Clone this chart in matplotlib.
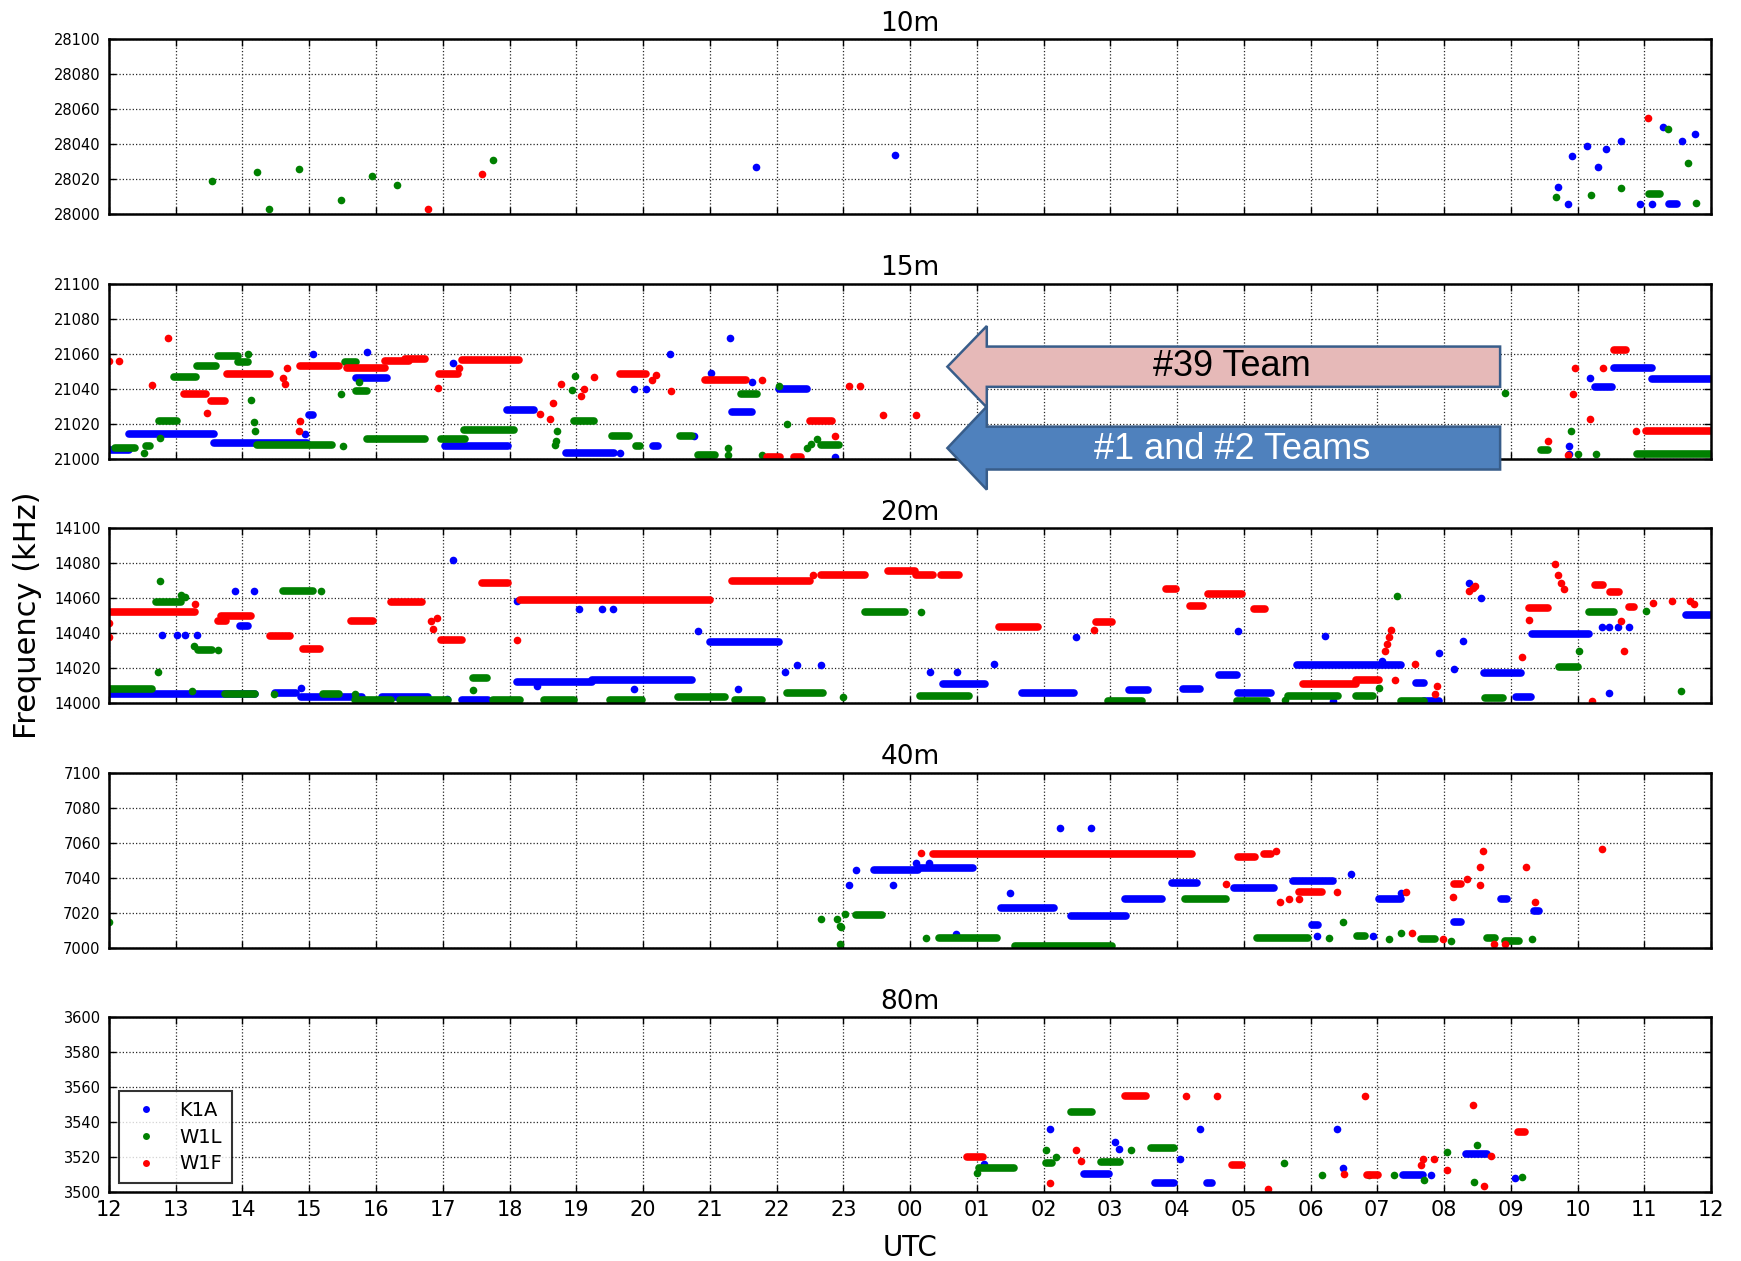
import matplotlib
matplotlib.use('Agg')
import matplotlib.pyplot as plt
from matplotlib.lines import Line2D
from matplotlib.patches import FancyArrow

# x = hours after 12 UTC (0 .. 24)
# (t, f) is one spot, (t0, t1, f) is a run of spots on one frequency
BANDS = ['10m', '15m', '20m', '40m', '80m']
BAND_LOW = [28000, 21000, 14000, 7000, 3500]
STATIONS = ['K1A', 'W1L', 'W1F']
STATION_COLORS = ['b', 'g', 'r']
HOUR_LABELS = ['12', '13', '14', '15', '16', '17', '18', '19', '20', '21', '22', '23',
               '00', '01', '02', '03', '04', '05', '06', '07', '08', '09', '10', '11', '12']

K1A_10 = [(9.70, 28027), (11.78, 28034), (21.70, 28015.5), (21.85, 28006), (21.92, 28033),
          (22.14, 28039), (22.30, 28027), (22.42, 28037), (22.65, 28042), (22.94, 28006),
          (23.11, 28006), (23.28, 28050), (23.37, 23.49, 28006), (23.57, 28042), (23.76, 28046)]
W1L_10 = [(1.55, 28019), (2.21, 28024), (2.40, 28003), (2.84, 28026), (3.48, 28008),
          (3.94, 28022), (4.32, 28016.5), (5.75, 28031), (21.68, 28010), (22.20, 28011),
          (22.65, 28015), (23.07, 23.23, 28011.5), (23.35, 28048.5), (23.65, 28029), (23.77, 28006.5)]
W1F_10 = [(4.78, 28003), (5.59, 28023), (23.06, 28055)]

K1A_15 = [(0.0, 0.30, 21005), (0.30, 1.57, 21014), (1.57, 2.97, 21009), (2.93, 21014),
          (3.00, 3.06, 21025), (3.05, 21059.5), (3.86, 21061), (3.70, 4.17, 21046), (5.16, 21054.5),
          (5.03, 5.98, 21007), (5.96, 6.37, 21028), (6.84, 7.56, 21003), (7.65, 21003),
          (7.86, 21039.5), (8.05, 21039.5), (8.15, 8.22, 21007), (8.41, 21059.5), (8.77, 21013),
          (9.02, 21049), (9.31, 21069), (9.34, 9.64, 21026.5), (9.64, 21044), (10.03, 10.46, 21039.5),
          (10.87, 21001), (21.87, 21007), (21.87, 21002.5), (22.19, 21046), (22.26, 22.51, 21041),
          (22.55, 23.12, 21051.5), (23.12, 24.0, 21045.5)]
W1L_15 = [(0.09, 0.39, 21006), (0.52, 21003), (0.55, 0.62, 21007), (0.76, 21012), (0.75, 1.02, 21021.5),
          (0.97, 1.31, 21046.5), (1.32, 1.61, 21053), (1.64, 1.94, 21058.5), (1.94, 2.08, 21055),
          (2.08, 21059.5), (2.13, 21033.5), (2.17, 21021), (2.19, 21015.5), (2.21, 3.34, 21008),
          (3.48, 21037), (3.50, 21007), (3.53, 3.70, 21055), (3.74, 21044), (3.70, 3.86, 21038.5),
          (3.87, 4.73, 21011), (4.97, 5.34, 21011), (5.32, 6.07, 21016.5), (6.71, 21016), (6.69, 21010),
          (6.68, 21007.5), (6.94, 21039), (6.98, 21047), (6.97, 7.27, 21021.5), (7.53, 7.79, 21013),
          (7.90, 7.96, 21007), (8.56, 8.73, 21013), (8.82, 9.08, 21002), (9.28, 21006), (9.28, 21002),
          (9.47, 9.71, 21037), (9.79, 21002), (10.03, 21041.5), (10.15, 21019.5), (10.46, 21006),
          (10.52, 21008.5), (10.60, 21011), (10.67, 10.93, 21008), (20.92, 21037.5), (21.45, 21.55, 21005),
          (21.90, 21016), (22.00, 21002.5), (22.28, 21002.5), (22.89, 24.0, 21002.5)]
W1F_15 = [(0.0, 21055.5), (0.15, 21055.5), (0.65, 21042), (0.88, 21069), (1.12, 1.46, 21037),
          (1.47, 21026), (1.53, 1.74, 21033), (1.77, 2.41, 21048.5), (2.61, 21046), (2.64, 21042.5),
          (2.67, 21051.5), (2.84, 21016), (2.86, 21021.5), (2.86, 3.44, 21053), (3.57, 4.13, 21051.5),
          (4.13, 4.49, 21055.5), (4.43, 4.73, 21057), (4.93, 21040.5), (4.95, 5.23, 21048.5),
          (5.25, 21052), (5.29, 6.14, 21056.5), (6.45, 21025.5), (6.61, 21022.5), (6.65, 21032),
          (6.77, 21042.5), (7.07, 21036), (7.12, 21040), (7.27, 21046.5), (7.66, 8.05, 21048.5),
          (8.13, 21045), (8.19, 21048), (8.42, 21038.5), (8.93, 9.55, 21045), (9.79, 21045),
          (9.85, 10.05, 21001), (10.26, 10.36, 21001), (10.50, 10.83, 21021.5), (10.87, 21013),
          (11.09, 21041.5), (11.25, 21041.5), (11.59, 21025), (12.09, 21025), (21.56, 21010),
          (21.85, 21002), (21.93, 21037), (21.96, 21052), (22.19, 21022.5), (22.38, 21052),
          (22.55, 22.72, 21062), (22.88, 21016), (23.02, 24.0, 21016)]

K1A_20 = [(0.0, 2.19, 14005), (0.80, 14039), (1.02, 14039), (1.14, 14039), (1.32, 14039),
          (1.89, 14064), (2.17, 14064), (1.96, 2.08, 14044), (2.48, 2.80, 14005.5), (2.88, 14008.5),
          (2.88, 3.79, 14003.5), (4.09, 4.78, 14003.5), (5.06, 14002.5), (5.29, 5.68, 14001.5),
          (5.16, 14082), (6.11, 14058.5), (6.11, 7.23, 14012), (7.23, 8.73, 14013), (6.41, 14009.5),
          (7.04, 14054), (7.38, 14054), (7.55, 14054), (7.86, 14008), (8.83, 14041), (9.01, 10.04, 14035),
          (9.42, 14008), (10.12, 14017.5), (10.31, 14021.5), (10.66, 14021.5), (12.30, 14017.5),
          (12.71, 14018), (12.49, 13.13, 14011), (13.26, 14022.5), (13.68, 14.45, 14005.5),
          (14.48, 14037.5), (15.28, 15.56, 14007.5), (16.09, 16.35, 14008), (16.63, 16.90, 14016),
          (16.92, 14041), (16.92, 17.41, 14005.5), (17.79, 19.36, 14022), (18.33, 14001), (18.22, 14038.5),
          (19.07, 14024), (19.58, 19.70, 14011.5), (19.70, 19.92, 14001), (19.93, 14028.5),
          (20.15, 14019.5), (20.28, 14035.5), (20.37, 14068.5), (20.55, 14060), (20.60, 21.15, 14017),
          (21.08, 21.30, 14003.5), (21.32, 22.17, 14039.5), (22.36, 14043.5), (22.47, 14043.5),
          (22.60, 14043.5), (22.77, 14043.5), (22.47, 14005.5), (23.63, 24.0, 14050.5)]
W1L_20 = [(0.0, 0.65, 14008), (0.73, 14018), (0.76, 14070), (0.71, 1.08, 14058), (1.08, 14061.5),
          (1.14, 14060.5), (1.25, 14007), (1.27, 14032.5), (1.33, 1.55, 14030.5), (1.64, 14030.5),
          (1.74, 2.19, 14005), (2.47, 14005), (2.61, 3.06, 14064), (3.18, 14064), (3.20, 3.44, 14005),
          (3.68, 14005), (3.68, 4.22, 14001.5), (4.36, 5.08, 14001.5), (5.45, 14007.5),
          (5.46, 5.66, 14014.5), (5.75, 6.15, 14001.5), (6.51, 6.97, 14001.5), (7.51, 7.99, 14001.5),
          (8.52, 9.23, 14003.5), (9.38, 9.78, 14001.5), (10.15, 10.69, 14005.5), (10.99, 14003.5),
          (11.33, 11.92, 14052), (12.17, 14052), (12.15, 12.88, 14004), (14.96, 15.48, 14001),
          (16.90, 17.35, 14001), (17.62, 14002), (17.66, 18.41, 14004), (18.68, 18.94, 14004),
          (19.02, 14008.5), (19.30, 14061), (19.36, 19.70, 14001), (20.62, 20.89, 14003),
          (21.72, 22.00, 14020.5), (22.02, 14029.5), (22.17, 22.55, 14052), (23.02, 14052.5), (23.55, 14007)]
W1F_20 = [(0.0, 14046), (0.0, 14037.5), (0.0, 1.29, 14052), (1.29, 14056.5), (1.64, 1.76, 14047),
          (1.68, 2.13, 14049.5), (2.41, 2.71, 14038.5), (2.90, 3.16, 14031), (3.63, 3.96, 14047),
          (4.23, 4.69, 14058), (4.82, 14047), (4.91, 14048.5), (4.85, 14042.5), (4.97, 5.29, 14036),
          (5.59, 5.98, 14068.5), (6.11, 14036), (6.15, 9.01, 14059), (9.34, 10.50, 14070), (10.54, 14073),
          (10.67, 11.32, 14073), (11.67, 12.07, 14075.5), (12.09, 12.35, 14073), (12.46, 12.73, 14073),
          (13.33, 13.92, 14043.5), (14.76, 14041.5), (14.79, 15.03, 14046.5), (15.84, 15.99, 14065),
          (16.20, 16.39, 14055.5), (16.47, 16.97, 14062.5), (17.15, 17.32, 14054), (17.88, 18.68, 14011),
          (18.68, 19.02, 14013), (19.26, 14013), (19.11, 14029.5), (19.14, 14033.5), (19.17, 14037.5),
          (19.21, 14041.5), (19.56, 14022.5), (19.86, 14005), (19.89, 14010), (20.38, 14064),
          (20.44, 14066), (20.47, 14067), (21.17, 14026.5), (21.28, 21.56, 14054.5), (21.28, 14047.5),
          (21.66, 14079.5), (21.70, 14073), (21.75, 14068.5), (21.79, 14065), (22.21, 14001),
          (22.26, 22.38, 14067.5), (22.49, 22.62, 14063.5), (22.65, 14047), (22.70, 14029.5),
          (22.77, 22.85, 14055), (23.13, 14057), (23.42, 14058.5), (23.68, 14058.5), (23.74, 14056.5)]

K1A_40 = [(11.08, 7035.5), (11.19, 7044.5), (11.46, 12.12, 7044.5), (11.75, 7035.5), (12.09, 7048.5),
          (12.29, 7048.5), (12.12, 12.94, 7045.5), (12.69, 7008), (13.50, 7031), (13.37, 14.15, 7022.5),
          (14.25, 7068.5), (14.71, 7068.5), (14.41, 15.24, 7018), (15.22, 15.78, 7028), (15.92, 16.30, 7037),
          (16.86, 17.45, 7034), (17.73, 18.34, 7038), (18.60, 7042), (18.02, 18.11, 7013), (18.09, 7006.5),
          (18.94, 7006.5), (19.02, 19.36, 7028), (19.35, 7031), (20.15, 20.26, 7014.5),
          (20.85, 20.95, 7028), (21.35, 21.43, 7021)]
W1L_40 = [(0.0, 7014.5), (10.67, 7016.5), (10.90, 7016.5), (10.95, 7012.5), (10.97, 7011.5),
          (10.95, 7002), (11.03, 7019), (11.19, 11.58, 7018.5), (12.24, 7005.5), (12.43, 13.31, 7005.5),
          (13.58, 15.03, 7001), (16.12, 16.73, 7027.5), (17.20, 17.96, 7005.5), (18.28, 7005.5),
          (18.48, 7014.5), (18.70, 18.81, 7006.5), (19.18, 7005), (19.36, 7008.5), (19.66, 19.87, 7005),
          (20.11, 7004), (20.64, 20.77, 7005.5), (20.91, 21.13, 7004), (21.32, 7005)]
W1F_40 = [(12.16, 7054), (12.35, 16.22, 7053.5), (16.73, 7036.5), (16.91, 17.17, 7051.5),
          (17.31, 17.41, 7053.5), (17.48, 7055), (17.55, 7026), (17.68, 7028), (17.83, 7028),
          (17.83, 18.17, 7031.5), (18.39, 7031.5), (19.43, 7031.5), (19.52, 7008.5), (19.98, 7005),
          (20.13, 7029), (20.15, 20.26, 7036.5), (20.35, 7039), (20.54, 7046), (20.58, 7055),
          (20.54, 7035.5), (20.75, 7002), (20.91, 7002), (21.23, 7046), (21.37, 7026), (22.36, 7056.5)]

K1A_80 = [(13.11, 3516), (14.10, 3536), (14.60, 14.98, 3510.5), (15.07, 3528.5), (15.13, 3524.5),
          (15.67, 15.96, 3505), (16.05, 3519), (16.35, 3536), (16.45, 16.53, 3505), (18.39, 3536),
          (18.48, 3513.5), (19.38, 19.69, 3509.5), (19.81, 3509.5), (20.33, 20.64, 3522), (21.06, 3508)]
W1L_80 = [(13.00, 3511), (13.03, 13.56, 3513.5), (14.03, 3524), (14.03, 14.12, 3516.5), (14.18, 3520),
          (14.41, 14.73, 3545.5), (14.86, 15.15, 3517), (15.31, 3524), (15.61, 15.95, 3525),
          (17.60, 3516.5), (18.17, 3509.5), (18.87, 3509.5), (19.25, 3509.5), (19.70, 3507),
          (20.04, 3523), (20.49, 3527), (20.45, 3506), (21.17, 3508.5)]
W1F_80 = [(12.86, 13.09, 3520), (14.10, 3505), (14.48, 3524), (14.56, 3518), (15.22, 15.54, 3555),
          (16.13, 3555), (16.60, 3555), (16.83, 16.98, 3515.5), (17.37, 3501.5), (18.50, 3510.5),
          (18.82, 3555), (18.84, 19.01, 3510), (19.66, 3515.5), (19.68, 3519), (19.85, 3519),
          (20.04, 3512.5), (20.44, 3550), (20.60, 3503.5), (20.70, 3520.5), (21.11, 21.22, 3534.5)]

SPOTS = [[K1A_10, W1L_10, W1F_10],
         [K1A_15, W1L_15, W1F_15],
         [K1A_20, W1L_20, W1F_20],
         [K1A_40, W1L_40, W1F_40],
         [K1A_80, W1L_80, W1F_80]]

DOT = 5.5


def draw_spots(ax, marks, color):
    xs, ys = [], []
    for m in marks:
        if len(m) == 2:
            xs.append(m[0])
            ys.append(m[1])
        else:
            ax.plot([m[0], m[1]], [m[2], m[2]], color=color, lw=DOT, solid_capstyle='round')
    ax.plot(xs, ys, 'o', color=color, ms=DOT, mew=0)


fig, axes = plt.subplots(5, 1, sharex=True, figsize=(17.41, 12.61), dpi=100)
fig.subplots_adjust(left=0.0626, right=0.9828, top=0.969, bottom=0.0547, hspace=0.397)

for ax, band, low, spots in zip(axes, BANDS, BAND_LOW, SPOTS):
    for marks, color in zip(spots, STATION_COLORS):
        draw_spots(ax, marks, color)
    ax.set_xlim(0, 24)
    ax.set_ylim(low, low + 100)
    ax.set_yticks(range(low, low + 101, 20))
    ax.set_title(band, fontsize=19, pad=6)
    ax.grid(True, linestyle=':', color='0.15', lw=0.9)
    ax.tick_params(direction='in', top=True, right=True, length=5, width=1)
    ax.tick_params(axis='y', labelsize=10.5, pad=6)
    ax.tick_params(axis='x', labelsize=15, pad=6)
    for s in ax.spines.values():
        s.set_linewidth(1.8)

axes[-1].set_xticks(range(25))
axes[-1].set_xticklabels(HOUR_LABELS)

handles = [Line2D([], [], marker='o', ls='none', color=c, ms=5, mew=0) for c in STATION_COLORS]
leg = axes[-1].legend(handles, STATIONS, loc='lower left', bbox_to_anchor=(0.0062, 0.051),
                      borderaxespad=0, fontsize=14, numpoints=1, fancybox=False,
                      handlelength=1.8, handletextpad=0.8, borderpad=0.5, labelspacing=0.4)
leg.get_frame().set_edgecolor('k')
leg.get_frame().set_linewidth(1.5)

fig.text(0.016, 0.512, 'Frequency (kHz)', rotation=90, ha='center', va='center', fontsize=22)
fig.text(0.5227, 0.004, 'UTC', ha='center', va='baseline', fontsize=20)

# team arrows on the 15m panel
ax15 = axes[1]
pink = FancyArrow(20.84, 21052.5, -8.28, 0, width=23, head_width=46.5, head_length=0.59,
                  length_includes_head=True, facecolor='#e6b9b8', edgecolor='#385d8a',
                  lw=1.8, clip_on=False, zorder=10)
blue = FancyArrow(20.84, 21006, -8.28, 0, width=24.5, head_width=47.5, head_length=0.59,
                  length_includes_head=True, facecolor='#4f81bd', edgecolor='#385d8a',
                  lw=1.8, clip_on=False, zorder=11)
ax15.add_patch(pink)
ax15.add_patch(blue)
ax15.text(16.82, 21052.5, '#39 Team', ha='center', va='center', fontsize=26,
          family='Liberation Sans', color='k', zorder=12)
ax15.text(16.82, 21005, '#1 and #2 Teams', ha='center', va='center', fontsize=26,
          family='Liberation Sans', color='w', zorder=12)

fig.savefig('out.png', dpi=100)
